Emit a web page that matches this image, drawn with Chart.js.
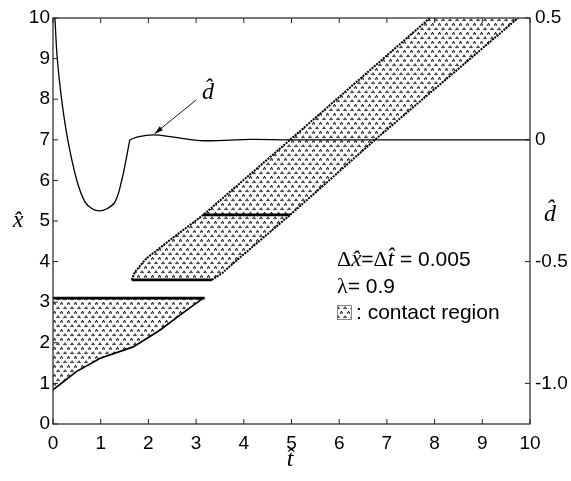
<!DOCTYPE html>
<html>
<head>
<meta charset="utf-8">
<script src="https://cdn.jsdelivr.net/npm/chart.js@4.4.1/dist/chart.umd.min.js"></script>
<style>
html,body{margin:0;padding:0;background:#fff;}
#wrap{width:571px;height:481px;}
</style>
</head>
<body>
<div id="wrap"><canvas id="c" width="571" height="481"></canvas></div>
<script>
// ---- data (t-hat, x-hat, d-hat) ----
const xTicks = [0,1,2,3,4,5,6,7,8,9,10];
const yTicks = [0,1,2,3,4,5,6,7,8,9,10];
const dTicks = [0.5, 0, -0.5, -1.0];
const dTickLabels = ['0.5','0','-0.5','-1.0'];

// d-hat curve (right axis); index of the kink where the curve reaches 0
const dT = [0.04,0.09,0.18,0.31,0.50,0.67,0.82,0.97,1.13,1.30,1.44,1.53,1.61,1.8,2.1,2.5,3.08,3.6,4.13,5,10];
const dV = [0.5,0.333,0.167,0,-0.167,-0.255,-0.283,-0.292,-0.283,-0.255,-0.167,-0.083,0,0.013,0.02,0.012,-0.003,-0.002,0.002,0,0];
const dKink = 12;

// contact region 1
const r1TopT = [0, 3.18];
const r1TopX = [3.1, 3.1];
const r1BotT = [0, 0.49, 0.99, 1.68, 2.24, 2.66, 3.15];
const r1BotX = [0.84, 1.29, 1.62, 1.9, 2.31, 2.68, 3.1];

// contact region 2
const r2BotT = [1.65, 3.33];
const r2BotX = [3.55, 3.55];
const r2MidT = [3.15, 4.97];
const r2MidX = [5.15, 5.15];
const r2LeftT = [1.65, 1.72, 1.96, 2.45, 3.15, 4.97, 7.9];
const r2LeftX = [3.55, 3.75, 4.08, 4.53, 5.15, 7.0, 10];
const r2RightT = [3.33, 3.55, 3.8, 4.97, 6.75, 9.75];
const r2RightX = [3.55, 3.72, 3.98, 5.15, 7.0, 10];

const pts = (T, X) => T.map((t, i) => ({x: t, y: X[i]}));

// polygons
const r1Poly = pts(r1TopT, r1TopX).concat(pts(r1BotT, r1BotX).reverse());
const r2Poly = pts(r2BotT, r2BotX).concat(pts(r2RightT, r2RightX)).concat(pts(r2LeftT, r2LeftX).reverse());
const dPts = pts(dT, dV);

// dotted fill pattern
function makePattern() {
  const c = document.createElement('canvas');
  c.width = 7; c.height = 9;
  const g = c.getContext('2d');
  g.fillStyle = '#000';
  const dot = (x, y) => {
    g.fillRect(x - 0.6, y - 1.4, 1.3, 1.3);
    g.fillRect(x - 1.6, y - 0.2, 1.3, 1.3);
    g.fillRect(x + 0.3, y - 0.2, 1.3, 1.3);
  };
  dot(2, 2); dot(5.5, 6.5);
  return g.createPattern(c, 'repeat');
}
const pattern = makePattern();

const SANS = '"Liberation Sans", Arial, Helvetica, sans-serif';
const SERIF = '"Liberation Serif", "Times New Roman", serif';

const lineDs = (data, width, dash, axis) => ({
  data, showLine: true, fill: false, borderColor: '#000', borderWidth: width,
  borderDash: dash || [], pointRadius: 0, tension: 0, yAxisID: axis || 'y'
});

const decor = {
  id: 'decor',
  afterDraw(chart) {
    const ctx = chart.ctx, a = chart.chartArea;
    const sx = chart.scales.x, sy = chart.scales.y, sd = chart.scales.y2;
    ctx.save();
    // frame
    ctx.strokeStyle = '#222'; ctx.lineWidth = 1.2;
    ctx.strokeRect(a.left, a.top, a.right - a.left, a.bottom - a.top);
    // inward ticks
    ctx.lineWidth = 1;
    const L = 5;
    ctx.beginPath();
    xTicks.forEach(v => {
      const p = sx.getPixelForValue(v);
      ctx.moveTo(p, a.bottom); ctx.lineTo(p, a.bottom - L);
      ctx.moveTo(p, a.top); ctx.lineTo(p, a.top + L);
    });
    yTicks.forEach(v => {
      const p = sy.getPixelForValue(v);
      ctx.moveTo(a.left, p); ctx.lineTo(a.left + L, p);
    });
    dTicks.forEach(v => {
      const p = sd.getPixelForValue(v);
      ctx.moveTo(a.right, p); ctx.lineTo(a.right - L, p);
    });
    ctx.stroke();

    // axis titles
    ctx.fillStyle = '#000';
    ctx.textAlign = 'center'; ctx.textBaseline = 'middle';
    ctx.font = 'italic 24px ' + SERIF;
    ctx.fillText('x\u0302', a.left - 35, sy.getPixelForValue(5));
    ctx.fillText('t\u0302', sx.getPixelForValue(4.97), a.bottom + 36);
    ctx.fillText('d\u0302', a.right + 20, sy.getPixelForValue(5.15));

    // annotation with arrow
    ctx.font = 'italic 24px ' + SERIF;
    ctx.fillText('d\u0302', sx.getPixelForValue(3.25), sy.getPixelForValue(8.15));
    const x0 = sx.getPixelForValue(3.0), y0 = sy.getPixelForValue(7.98);
    const x1 = sx.getPixelForValue(2.13), y1 = sd.getPixelForValue(0.021) - 1;
    ctx.strokeStyle = '#000'; ctx.lineWidth = 0.9;
    ctx.beginPath(); ctx.moveTo(x0, y0); ctx.lineTo(x1, y1); ctx.stroke();
    const ang = Math.atan2(y1 - y0, x1 - x0), h = 9, w = 0.28;
    ctx.beginPath();
    ctx.moveTo(x1, y1);
    ctx.lineTo(x1 - h * Math.cos(ang - w), y1 - h * Math.sin(ang - w));
    ctx.lineTo(x1 - h * Math.cos(ang + w), y1 - h * Math.sin(ang + w));
    ctx.closePath(); ctx.fill();

    // legend text
    ctx.textAlign = 'left'; ctx.textBaseline = 'alphabetic';
    const lx = a.left + 284;
    function run(parts, x, y) {
      parts.forEach(([txt, font]) => { ctx.font = font; ctx.fillText(txt, x, y); x += ctx.measureText(txt).width; });
    }
    const fs = 'italic 23px ' + SERIF, fn = '22px ' + SERIF, fsans = '21px ' + SANS;
    run([['\u0394', fn], ['x\u0302', fs], ['=', fsans], ['\u0394', fn], ['t\u0302', fs], [' = 0.005', fsans]], lx, a.top + 248);
    run([['\u03BB', fn], ['= 0.9', fsans]], lx, a.top + 275);
    // pattern box
    const bx = lx, by = a.top + 287, bs = 14;
    ctx.fillStyle = '#fff'; ctx.fillRect(bx, by, bs, bs);
    ctx.fillStyle = pattern; ctx.fillRect(bx, by, bs, bs);
    ctx.strokeStyle = '#888'; ctx.lineWidth = 1; ctx.strokeRect(bx + 0.5, by + 0.5, bs, bs);
    ctx.fillStyle = '#000';
    run([[': contact region', fsans]], lx + 19, a.top + 301);
    ctx.restore();
  }
};

new Chart(document.getElementById('c'), {
  type: 'scatter',
  data: {
    datasets: [
      {data: r1Poly, showLine: true, fill: 'shape', backgroundColor: pattern, borderWidth: 0, borderColor: 'rgba(0,0,0,0)', pointRadius: 0, yAxisID: 'y'},
      {data: r2Poly, showLine: true, fill: 'shape', backgroundColor: pattern, borderWidth: 0, borderColor: 'rgba(0,0,0,0)', pointRadius: 0, yAxisID: 'y'},
      lineDs(pts(r1BotT, r1BotX), 1.7),
      lineDs(pts(r1TopT, r1TopX), 2.8),
      lineDs(pts(r2BotT, r2BotX), 2.8),
      lineDs(pts(r2MidT, r2MidX), 2.8),
      lineDs(pts(r2LeftT, r2LeftX), 2, [2, 1]),
      lineDs(pts(r2RightT, r2RightX), 2, [2, 1]),
      Object.assign(lineDs(dPts.slice(0, dKink + 1), 1.3, [], 'y2'), {tension: 0.4}),
      Object.assign(lineDs(dPts.slice(dKink), 1.3, [], 'y2'), {tension: 0.4})
    ]
  },
  options: {
    responsive: false,
    animation: false,
    layout: {padding: {top: 18, left: 0, right: 0, bottom: 0}},
    plugins: {legend: {display: false}, tooltip: {enabled: false}},
    scales: {
      x: {
        type: 'linear', position: 'bottom', min: 0, max: 10,
        afterFit: s => { s.height = 57; },
        afterBuildTicks: s => { s.ticks = xTicks.map(v => ({value: v})); },
        grid: {display: false, drawTicks: false}, border: {display: false},
        ticks: {padding: 8, color: '#000', font: {family: SANS, size: 19}, maxRotation: 0, autoSkip: false}
      },
      y: {
        type: 'linear', position: 'left', min: 0, max: 10,
        afterFit: s => { s.width = 53; },
        afterBuildTicks: s => { s.ticks = yTicks.map(v => ({value: v})); },
        grid: {display: false, drawTicks: false}, border: {display: false},
        ticks: {padding: 3, color: '#000', font: {family: SANS, size: 19}, autoSkip: false}
      },
      y2: {
        type: 'linear', position: 'right', min: -7/6, max: 0.5,
        afterFit: s => { s.width = 41; },
        afterBuildTicks: s => { s.ticks = dTicks.map(v => ({value: v})); },
        grid: {display: false, drawTicks: false}, border: {display: false},
        ticks: {padding: 5, color: '#000', font: {family: SANS, size: 19}, autoSkip: false,
          callback: (v) => { const i = dTicks.indexOf(v); return i >= 0 ? dTickLabels[i] : ''; }}
      }
    }
  },
  plugins: [decor]
});
</script>
</body>
</html>
